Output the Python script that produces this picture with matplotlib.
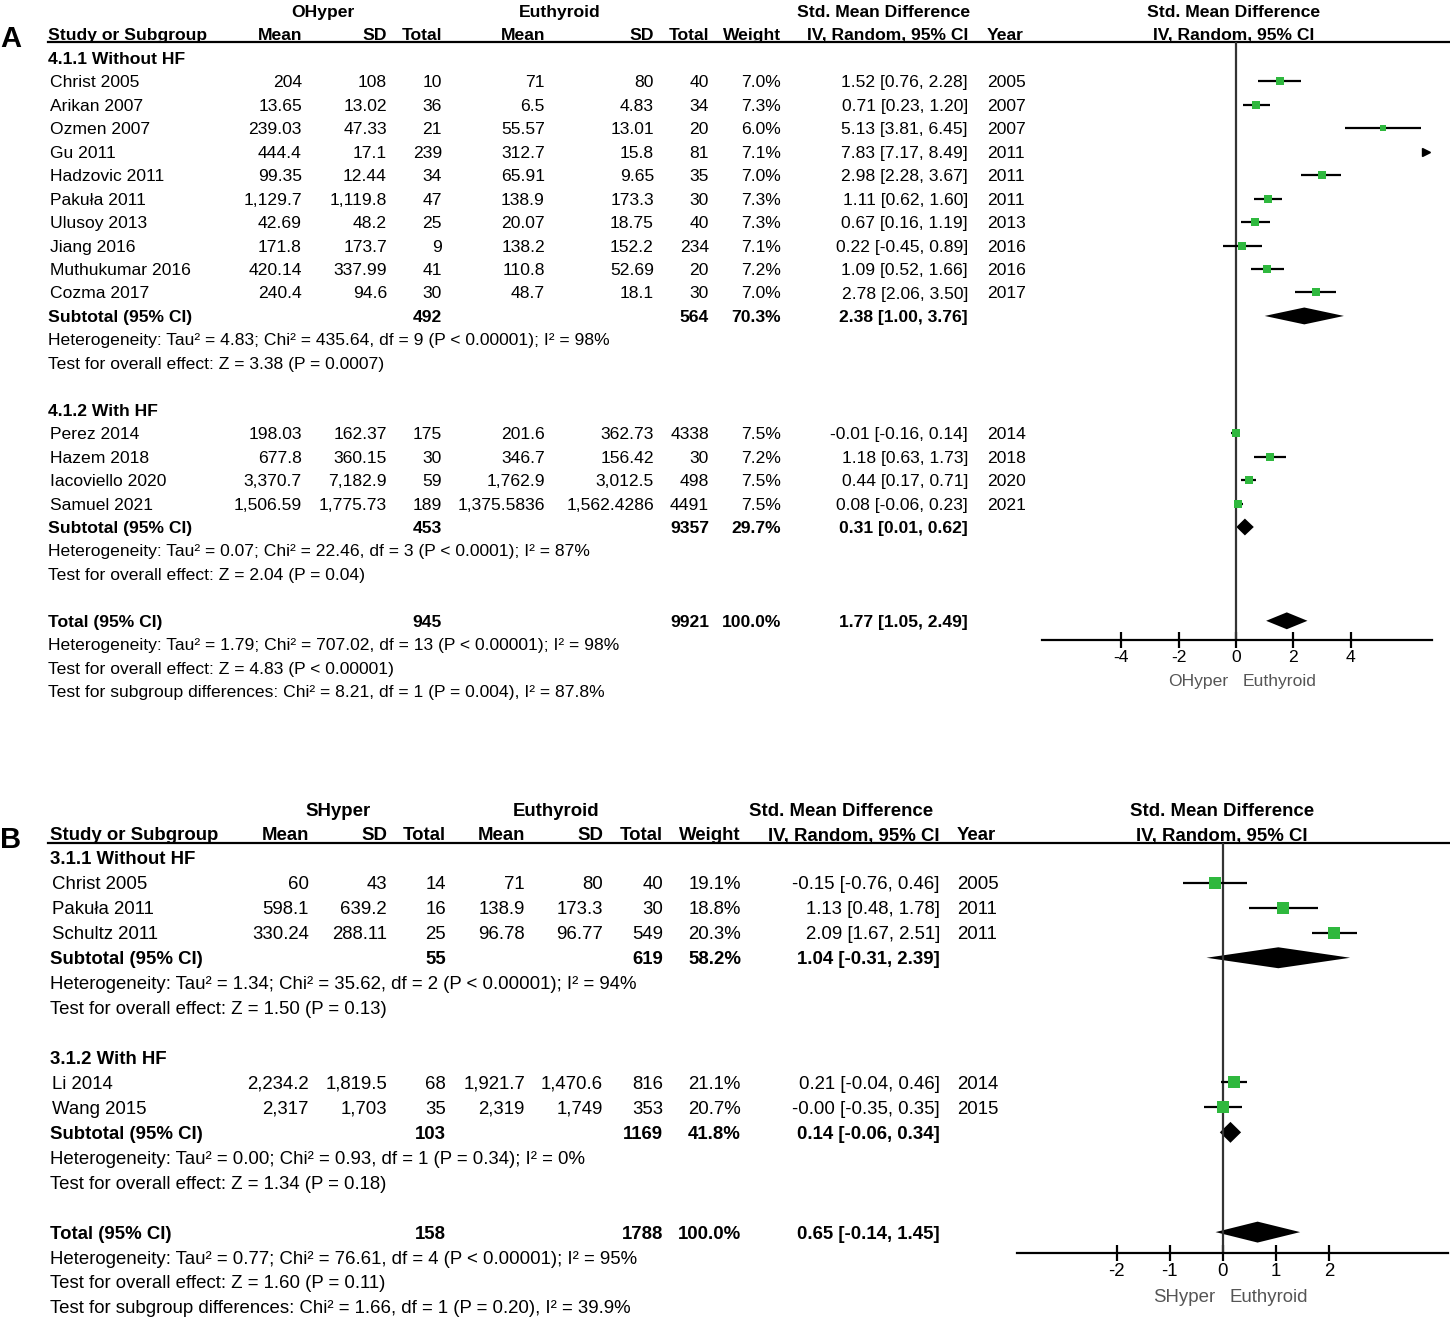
import numpy as np
import matplotlib
matplotlib.use('Agg')
import matplotlib.pyplot as plt
from matplotlib.patches import Polygon

plt.rcParams['font.family'] = ['Liberation Sans', 'DejaVu Sans']
plt.rcParams['axes.unicode_minus'] = False

W, H = 1450, 1319
GREEN = '#2fb83e'

"""
Panel A - OHyper vs Euthyroid
"""

a1_names = ["Christ 2005", "Arikan 2007", "Ozmen 2007", "Gu 2011", "Hadzovic 2011",
            "Pakuła 2011", "Ulusoy 2013", "Jiang 2016", "Muthukumar 2016", "Cozma 2017"]
a1_mean1 = ["204", "13.65", "239.03", "444.4", "99.35", "1,129.7", "42.69", "171.8", "420.14", "240.4"]
a1_sd1 = ["108", "13.02", "47.33", "17.1", "12.44", "1,119.8", "48.2", "173.7", "337.99", "94.6"]
a1_n1 = [10, 36, 21, 239, 34, 47, 25, 9, 41, 30]
a1_mean2 = ["71", "6.5", "55.57", "312.7", "65.91", "138.9", "20.07", "138.2", "110.8", "48.7"]
a1_sd2 = ["80", "4.83", "13.01", "15.8", "9.65", "173.3", "18.75", "152.2", "52.69", "18.1"]
a1_n2 = [40, 34, 20, 81, 35, 30, 40, 234, 20, 30]
a1_weight = [7.0, 7.3, 6.0, 7.1, 7.0, 7.3, 7.3, 7.1, 7.2, 7.0]
a1_smd = [1.52, 0.71, 5.13, 7.83, 2.98, 1.11, 0.67, 0.22, 1.09, 2.78]
a1_lo = [0.76, 0.23, 3.81, 7.17, 2.28, 0.62, 0.16, -0.45, 0.52, 2.06]
a1_hi = [2.28, 1.20, 6.45, 8.49, 3.67, 1.60, 1.19, 0.89, 1.66, 3.50]
a1_year = [2005, 2007, 2007, 2011, 2011, 2011, 2013, 2016, 2016, 2017]
a1_sub = dict(n1=492, n2=564, weight=70.3, smd=2.38, lo=1.00, hi=3.76)
a1_het = "Heterogeneity: Tau² = 4.83; Chi² = 435.64, df = 9 (P < 0.00001); I² = 98%"
a1_test = "Test for overall effect: Z = 3.38 (P = 0.0007)"

a2_names = ["Perez 2014", "Hazem 2018", "Iacoviello 2020", "Samuel 2021"]
a2_mean1 = ["198.03", "677.8", "3,370.7", "1,506.59"]
a2_sd1 = ["162.37", "360.15", "7,182.9", "1,775.73"]
a2_n1 = [175, 30, 59, 189]
a2_mean2 = ["201.6", "346.7", "1,762.9", "1,375.5836"]
a2_sd2 = ["362.73", "156.42", "3,012.5", "1,562.4286"]
a2_n2 = [4338, 30, 498, 4491]
a2_weight = [7.5, 7.2, 7.5, 7.5]
a2_smd = [-0.01, 1.18, 0.44, 0.08]
a2_lo = [-0.16, 0.63, 0.17, -0.06]
a2_hi = [0.14, 1.73, 0.71, 0.23]
a2_year = [2014, 2018, 2020, 2021]
a2_sub = dict(n1=453, n2=9357, weight=29.7, smd=0.31, lo=0.01, hi=0.62)
a2_het = "Heterogeneity: Tau² = 0.07; Chi² = 22.46, df = 3 (P < 0.0001); I² = 87%"
a2_test = "Test for overall effect: Z = 2.04 (P = 0.04)"

a_total = dict(n1=945, n2=9921, weight=100.0, smd=1.77, lo=1.05, hi=2.49)
a_total_text = ["Heterogeneity: Tau² = 1.79; Chi² = 707.02, df = 13 (P < 0.00001); I² = 98%",
                "Test for overall effect: Z = 4.83 (P < 0.00001)",
                "Test for subgroup differences: Chi² = 8.21, df = 1 (P = 0.004), I² = 87.8%"]
a_ticks = [-4, -2, 0, 2, 4]

"""
Panel B - SHyper vs Euthyroid
"""

b1_names = ["Christ 2005", "Pakuła 2011", "Schultz 2011"]
b1_mean1 = ["60", "598.1", "330.24"]
b1_sd1 = ["43", "639.2", "288.11"]
b1_n1 = [14, 16, 25]
b1_mean2 = ["71", "138.9", "96.78"]
b1_sd2 = ["80", "173.3", "96.77"]
b1_n2 = [40, 30, 549]
b1_weight = [19.1, 18.8, 20.3]
b1_smd = [-0.15, 1.13, 2.09]
b1_lo = [-0.76, 0.48, 1.67]
b1_hi = [0.46, 1.78, 2.51]
b1_year = [2005, 2011, 2011]
b1_sub = dict(n1=55, n2=619, weight=58.2, smd=1.04, lo=-0.31, hi=2.39)
b1_het = "Heterogeneity: Tau² = 1.34; Chi² = 35.62, df = 2 (P < 0.00001); I² = 94%"
b1_test = "Test for overall effect: Z = 1.50 (P = 0.13)"

b2_names = ["Li 2014", "Wang 2015"]
b2_mean1 = ["2,234.2", "2,317"]
b2_sd1 = ["1,819.5", "1,703"]
b2_n1 = [68, 35]
b2_mean2 = ["1,921.7", "2,319"]
b2_sd2 = ["1,470.6", "1,749"]
b2_n2 = [816, 353]
b2_weight = [21.1, 20.7]
b2_smd = [0.21, -0.0]
b2_lo = [-0.04, -0.35]
b2_hi = [0.46, 0.35]
b2_year = [2014, 2015]
b2_sub = dict(n1=103, n2=1169, weight=41.8, smd=0.14, lo=-0.06, hi=0.34)
b2_het = "Heterogeneity: Tau² = 0.00; Chi² = 0.93, df = 1 (P = 0.34); I² = 0%"
b2_test = "Test for overall effect: Z = 1.34 (P = 0.18)"

b_total = dict(n1=158, n2=1788, weight=100.0, smd=0.65, lo=-0.14, hi=1.45)
b_total_text = ["Heterogeneity: Tau² = 0.77; Chi² = 76.61, df = 4 (P < 0.00001); I² = 95%",
                "Test for overall effect: Z = 1.60 (P = 0.11)",
                "Test for subgroup differences: Chi² = 1.66, df = 1 (P = 0.20), I² = 39.9%"]
b_ticks = [-2, -1, 0, 1, 2]


def make_group(title, names, mean1, sd1, n1, mean2, sd2, n2, weight, smd, lo, hi, year, sub, het, test):
    return dict(title=title, names=names, mean1=mean1, sd1=sd1, n1=n1, mean2=mean2, sd2=sd2,
                n2=n2, weight=weight, smd=smd, lo=lo, hi=hi, year=year, sub=sub, het=het, test=test)


def ci_text(smd, lo, hi):
    return f"{smd:.2f} [{lo:.2f}, {hi:.2f}]"


def draw_panel(fig, bg, letter, exp_name, groups, total, total_text, ticks, lay):
    """
    Draws one RevMan style forest plot: table on the left, plot on the right.
    """
    fs = lay['fs']
    y0, dy = lay['y0'], lay['dy']
    c = lay['cols']

    def ry(i):
        return y0 + i * dy

    def txt(x, i, s, ha='right', bold=False, **kw):
        bg.text(x, ry(i), s, ha=ha, va='center_baseline', fontsize=fs,
                fontweight='bold' if bold else 'normal', **kw)

    # headers
    hy1, hy2 = lay['head']
    for x, s in [(lay['g1'], exp_name), (lay['g2'], 'Euthyroid'), (lay['g3'], 'Std. Mean Difference'),
                 (lay['g4'], 'Std. Mean Difference')]:
        bg.text(x, hy1, s, ha='center', va='center_baseline', fontsize=fs, fontweight='bold')
    bg.text(lay['name_x'] - 2, hy2, 'Study or Subgroup', ha='left', va='center_baseline', fontsize=fs, fontweight='bold')
    for key, s in [('mean1', 'Mean'), ('sd1', 'SD'), ('n1', 'Total'), ('mean2', 'Mean'), ('sd2', 'SD'),
                   ('n2', 'Total'), ('weight', 'Weight'), ('ci', 'IV, Random, 95% CI')]:
        bg.text(c[key], hy2, s, ha='right', va='center_baseline', fontsize=fs, fontweight='bold')
    bg.text(c['year'], hy2, 'Year', ha='left', va='center_baseline', fontsize=fs, fontweight='bold')
    bg.text(lay['g4'], hy2, 'IV, Random, 95% CI', ha='center', va='center_baseline', fontsize=fs, fontweight='bold')
    bg.plot([48, W], [lay['line_y'], lay['line_y']], color='black', lw=1.6)
    bg.text(0, lay['line_y'] - 3, letter, ha='left', va='center', fontsize=21, fontweight='bold')

    # forest axes
    fx0, fx1, fy1 = lay['forest_px']
    zero, unit = lay['zero'], lay['unit']
    ax = fig.add_axes([fx0 / W, 1 - fy1 / H, (fx1 - fx0) / W, (fy1 - lay['line_y']) / H])
    ax.set_xlim((fx0 - zero) / unit, (fx1 - zero) / unit)
    ax.set_ylim((fy1 - y0) / dy, (lay['line_y'] - y0) / dy)
    ax.patch.set_alpha(0)
    for s in ['top', 'left', 'right']:
        ax.spines[s].set_visible(False)
    ax.spines['bottom'].set_linewidth(1.6)
    ax.set_yticks([])
    ax.set_xticks(ticks)
    ax.set_xticklabels([str(t) for t in ticks])
    ax.tick_params(axis='x', direction='inout', length=12, width=1.6, labelsize=fs, pad=1)
    ax.axvline(0, color='#333333', lw=1.6)
    xmax = ax.get_xlim()[1]
    bg.text(zero - 8, lay['lab_y'], exp_name, ha='right', va='center_baseline', fontsize=fs, color='#555555')
    bg.text(zero + 7, lay['lab_y'], 'Euthyroid', ha='left', va='center_baseline', fontsize=fs, color='#555555')

    def diamond(i, d):
        h = lay['dh']
        ax.add_patch(Polygon([(d['lo'], i), (d['smd'], i - h), (d['hi'], i), (d['smd'], i + h)],
                             closed=True, color='black', lw=0))

    wmax = max(max(g['weight']) for g in groups)
    i = 0
    for g in groups:
        txt(lay['name_x'] - 2, i, g['title'], ha='left', bold=True)
        i += 1
        for k, name in enumerate(g['names']):
            txt(lay['name_x'], i, name, ha='left')
            for key in ['mean1', 'sd1', 'n1', 'mean2', 'sd2', 'n2']:
                txt(c[key], i, str(g[key][k]))
            txt(c['weight'], i, f"{g['weight'][k]:.1f}%")
            txt(c['ci'], i, ci_text(g['smd'][k], g['lo'][k], g['hi'][k]))
            txt(c['year'], i, str(g['year'][k]), ha='left')
            if g['lo'][k] > xmax:
                ax.plot(xmax - 0.2, i, '>', color='black', ms=6, clip_on=False)
            else:
                ax.hlines(i, g['lo'][k], g['hi'][k], color='black', lw=1.6)
                ax.plot(g['smd'][k], i, 's', color=GREEN, ms=lay['ms'] * np.sqrt(g['weight'][k] / wmax), mew=0)
            i += 1
        s = g['sub']
        txt(lay['name_x'] - 2, i, 'Subtotal (95% CI)', ha='left', bold=True)
        txt(c['n1'], i, str(s['n1']), bold=True)
        txt(c['n2'], i, str(s['n2']), bold=True)
        txt(c['weight'], i, f"{s['weight']:.1f}%", bold=True)
        txt(c['ci'], i, ci_text(s['smd'], s['lo'], s['hi']), bold=True)
        diamond(i, s)
        i += 1
        txt(lay['name_x'] - 2, i, g['het'], ha='left')
        txt(lay['name_x'] - 2, i + 1, g['test'], ha='left')
        i += 3

    txt(lay['name_x'] - 2, i, 'Total (95% CI)', ha='left', bold=True)
    txt(c['n1'], i, str(total['n1']), bold=True)
    txt(c['n2'], i, str(total['n2']), bold=True)
    txt(c['weight'], i, f"{total['weight']:.1f}%", bold=True)
    txt(c['ci'], i, ci_text(total['smd'], total['lo'], total['hi']), bold=True)
    diamond(i, total)
    for k, s in enumerate(total_text):
        txt(lay['name_x'] - 2, i + 1 + k, s, ha='left')
    return ax


fig = plt.figure(figsize=(W / 100, H / 100), dpi=100)
fig.patch.set_facecolor('white')
bg = fig.add_axes([0, 0, 1, 1])
bg.set_xlim(0, W)
bg.set_ylim(H, 0)
bg.axis('off')

groups_a = [make_group("4.1.1 Without HF", a1_names, a1_mean1, a1_sd1, a1_n1, a1_mean2, a1_sd2, a1_n2,
                       a1_weight, a1_smd, a1_lo, a1_hi, a1_year, a1_sub, a1_het, a1_test),
            make_group("4.1.2 With HF", a2_names, a2_mean1, a2_sd1, a2_n1, a2_mean2, a2_sd2, a2_n2,
                       a2_weight, a2_smd, a2_lo, a2_hi, a2_year, a2_sub, a2_het, a2_test)]
groups_b = [make_group("3.1.1 Without HF", b1_names, b1_mean1, b1_sd1, b1_n1, b1_mean2, b1_sd2, b1_n2,
                       b1_weight, b1_smd, b1_lo, b1_hi, b1_year, b1_sub, b1_het, b1_test),
            make_group("3.1.2 With HF", b2_names, b2_mean1, b2_sd1, b2_n1, b2_mean2, b2_sd2, b2_n2,
                       b2_weight, b2_smd, b2_lo, b2_hi, b2_year, b2_sub, b2_het, b2_test)]

lay_a = dict(fs=12.6, y0=58, dy=23.45, head=(11, 34), line_y=42, name_x=50,
             g1=323, g2=560, g3=884, g4=1234,
             cols=dict(mean1=302, sd1=387, n1=442, mean2=545, sd2=654, n2=709, weight=781, ci=968, year=987),
             forest_px=(1042, 1432, 640), zero=1236, unit=28.7, lab_y=680, dh=0.36, ms=5.5)
lay_b = dict(fs=13.4, y0=858, dy=24.94, head=(809, 834), line_y=843, name_x=52,
             g1=338, g2=556, g3=841, g4=1222,
             cols=dict(mean1=309, sd1=387, n1=446, mean2=525, sd2=603, n2=663, weight=741, ci=940, year=957),
             forest_px=(1017, 1448, 1253), zero=1223, unit=53.2, lab_y=1295, dh=0.42, ms=8.5)

draw_panel(fig, bg, 'A', 'OHyper', groups_a, a_total, a_total_text, a_ticks, lay_a)
draw_panel(fig, bg, 'B', 'SHyper', groups_b, b_total, b_total_text, b_ticks, lay_b)

fig.savefig('out.png', dpi=100, facecolor='white')
